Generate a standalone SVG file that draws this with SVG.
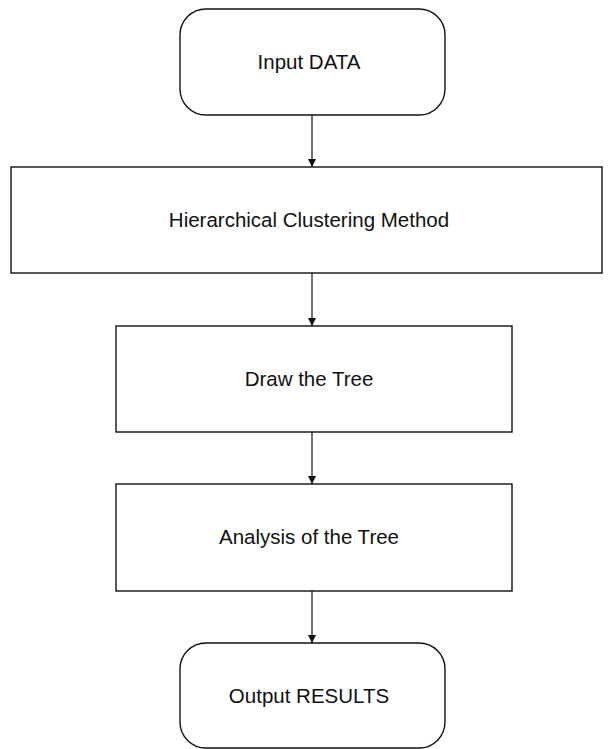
<svg xmlns="http://www.w3.org/2000/svg" width="612" height="749" viewBox="0 0 612 749">
<style>
.box{fill:#fff;stroke:#111;stroke-width:1.4}
.lbl{font-family:"Liberation Sans","Open Sans",sans-serif;font-size:20.5px;fill:#111;text-anchor:middle}
.con{stroke:#111;stroke-width:1.2;fill:none}
</style>
<defs>
<marker id="ah" viewBox="0 0 8 10" refX="8" refY="5" markerWidth="8" markerHeight="10" markerUnits="userSpaceOnUse" orient="auto">
<path d="M0,1 L8,5 L0,9 Z" fill="#111"/>
</marker>
</defs>
<g id="connectors">
<line class="con" x1="312" y1="115" x2="312" y2="167" marker-end="url(#ah)"/>
<line class="con" x1="312" y1="273" x2="312" y2="326" marker-end="url(#ah)"/>
<line class="con" x1="312" y1="432" x2="312" y2="484" marker-end="url(#ah)"/>
<line class="con" x1="312" y1="591" x2="312" y2="643" marker-end="url(#ah)"/>
</g>
<g id="input">
<rect class="box" x="180" y="9" width="265" height="106" rx="26" ry="26"/>
<text class="lbl" x="309" y="69">Input DATA</text>
</g>
<g id="clustering">
<rect class="box" x="11" y="167" width="591" height="106"/>
<text class="lbl" x="309" y="227">Hierarchical Clustering Method</text>
</g>
<g id="draw">
<rect class="box" x="116" y="326" width="396" height="106"/>
<text class="lbl" x="309" y="386">Draw the Tree</text>
</g>
<g id="analysis">
<rect class="box" x="116" y="484" width="396" height="107"/>
<text class="lbl" x="309" y="544">Analysis of the Tree</text>
</g>
<g id="output">
<rect class="box" x="180" y="643" width="265" height="105" rx="26" ry="26"/>
<text class="lbl" x="309" y="703">Output RESULTS</text>
</g>
</svg>
